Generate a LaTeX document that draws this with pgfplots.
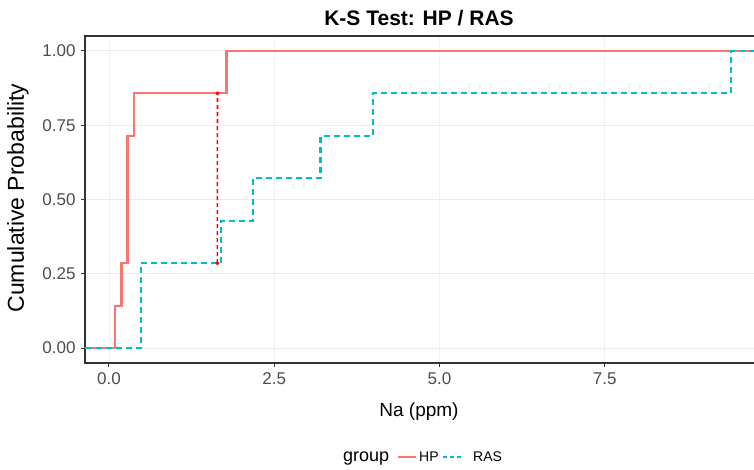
\documentclass[border=0pt]{standalone}
\usepackage{fontspec}
\setmainfont{Liberation Sans}
\usepackage{pgfplots}
\pgfplotsset{compat=1.18}
\definecolor{hp}{HTML}{F8766D}
\definecolor{ras}{HTML}{00BFC4}
\definecolor{ksred}{HTML}{FF0000}
\definecolor{gridc}{HTML}{EBEBEB}
\definecolor{axc}{HTML}{333333}
\definecolor{tickc}{HTML}{4D4D4D}
\begin{document}
\begin{tikzpicture}[x=1pt,y=1pt]
\useasboundingbox (-85,-107) rectangle (669,363);
\begin{axis}[
 at={(0,0)}, anchor=south west,
 scale only axis, width=674pt, height=327pt,
 xmin=-0.363, xmax=9.834, ymin=-0.05, ymax=1.05,
 xtick={0,2.5,5,7.5}, xticklabels={0.0,2.5,5.0,7.5},
 ytick={0,0.25,0.5,0.75,1}, yticklabels={0.00,0.25,0.50,0.75,1.00},
 tick align=outside, major tick length=4pt,
 tick style={axc, line width=1pt},
 axis line style={axc, line width=1.3pt},
 xtick pos=bottom, ytick pos=left,
 ymajorgrids, xmajorgrids,
 y grid style={gridc, line width=0.9pt},
 x grid style={color=gridc!60!white, line width=0.9pt},
 ticklabel style={font=\fontsize{17}{17}\selectfont, text=tickc},
 xticklabel style={yshift=-2pt},
 yticklabel style={xshift=-2pt},
 /pgf/number format/assume math mode=true,
]
\addplot[hp, line width=2.3pt, const plot] coordinates {
 (-0.5,0) (0.09,0.1429) (0.19,0.2857) (0.28,0.7143) (0.38,0.8571) (1.78,1.0) (10,1.0)};
\addplot[ras, line width=2.3pt, const plot, dash pattern=on 6pt off 4pt] coordinates {
 (-0.5,0) (0.48,0.2857) (1.69,0.4286) (2.18,0.5714) (3.20,0.7143) (3.99,0.8571) (9.41,1.0) (10,1.0)};
\addplot[color=ksred, line width=1.6pt, dash pattern=on 4pt off 3pt] coordinates {(1.640,0.2857) (1.641,0.8571)};
\addplot[ksred, only marks, mark=*, mark size=1.7pt, mark options={fill=ksred, draw=ksred}] coordinates {(1.64,0.2857) (1.641,0.8571)};
\end{axis}
\node[font=\fontsize{21}{21}\selectfont\bfseries] at (334,345) {K-S Test: HP / RAS};
\node[font=\fontsize{19}{19}\selectfont] at (334,-49) {Na (ppm)};
\node[font=\fontsize{23}{23}\selectfont, rotate=90] at (-67,165) {Cumulative Probability};
\node[font=\fontsize{18}{18}\selectfont, anchor=base west, inner sep=0] at (258,-99) {group};
\draw[hp, line width=2.3pt] (313,-94) -- (331,-94);
\node[font=\fontsize{14}{14}\selectfont, anchor=base west, inner sep=0] at (334,-99) {HP};
\draw[ras, line width=2.3pt, dash pattern=on 4pt off 3pt] (358,-94) -- (378,-94);
\node[font=\fontsize{14}{14}\selectfont, anchor=base west, inner sep=0] at (388,-99) {RAS};
\end{tikzpicture}
\end{document}
